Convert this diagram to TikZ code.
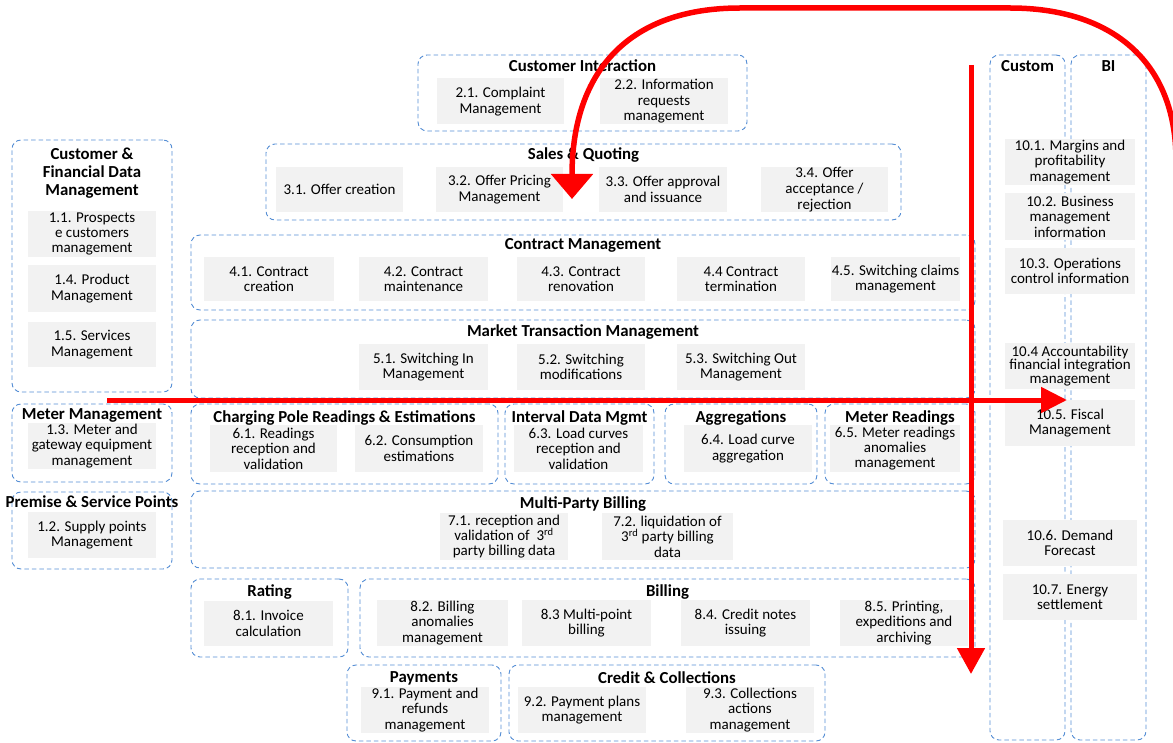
\documentclass[tikz,border=0pt]{standalone}
\usepackage{fontspec}
\setmainfont{Carlito}
\usetikzlibrary{arrows.meta}

\definecolor{grpblue}{RGB}{84,141,212}
\definecolor{itemgray}{RGB}{242,242,242}
\definecolor{flowred}{RGB}{255,0,0}

\tikzset{
  grpbox/.style={draw=grpblue, line width=0.9pt, dash pattern=on 4.5pt off 3pt,
    rounded corners=9pt, inner sep=0pt},
  grptitle/.style={font=\bfseries\fontsize{16.8}{18}\selectfont, align=center, inner sep=0pt},
  itembox/.style={fill=itemgray, align=center, inner sep=0pt, minimum width=128pt,
    minimum height=46pt, font=\fontsize{15}{15.4}\selectfont},
  redflow/.style={draw=flowred, line width=5pt},
}

\begin{document}
\begin{tikzpicture}[x=1pt,y=-1pt]
  \useasboundingbox (0,0) rectangle (1173,743);
  %
  % group boxes
  \node[grpbox, minimum width=329pt, minimum height=76pt] (ci) at (582.5,93) {};
  \node[grpbox, minimum width=635pt, minimum height=76pt] (sq) at (583.5,182) {};
  \node[grpbox, minimum width=784pt, minimum height=75pt] (cm) at (583,272.5) {};
  \node[grpbox, minimum width=784pt, minimum height=78pt] (mt) at (583,359) {};
  \node[grpbox, minimum width=307pt, minimum height=80pt] (cp) at (344.5,444) {};
  \node[grpbox, minimum width=149pt, minimum height=80pt] (id) at (579.5,444) {};
  \node[grpbox, minimum width=152pt, minimum height=80pt] (ag) at (741,444) {};
  \node[grpbox, minimum width=150pt, minimum height=80pt] (mr) at (900,444) {};
  \node[grpbox, minimum width=784pt, minimum height=77pt] (mp) at (583,529.5) {};
  \node[grpbox, minimum width=157pt, minimum height=78pt] (rt) at (269.5,618) {};
  \node[grpbox, minimum width=615pt, minimum height=78pt] (bl) at (667.5,618) {};
  \node[grpbox, minimum width=154pt, minimum height=76pt] (pm) at (424,703) {};
  \node[grpbox, minimum width=316pt, minimum height=76pt] (cc) at (667,703) {};
  \node[grpbox, minimum width=160pt, minimum height=252pt] (cf) at (92,266) {};
  \node[grpbox, minimum width=160pt, minimum height=78pt] (mm) at (92,443) {};
  \node[grpbox, minimum width=160pt, minimum height=77pt] (ps) at (92,530.5) {};
  \node[grpbox, minimum width=75pt, minimum height=685pt] (cu) at (1027.5,397.5) {};
  \node[grpbox, minimum width=75pt, minimum height=685pt] (bi) at (1108.5,397.5) {};
  %
  % group titles
  \node[grptitle] (ci-t) at (582.5,66) {Customer Interaction};
  \node[grptitle] (sq-t) at (583.5,155) {Sales \& Quoting};
  \node[grptitle] (cm-t) at (583,245) {Contract Management};
  \node[grptitle] (mt-t) at (583,332) {Market Transaction Management};
  \node[grptitle] (cp-t) at (344.5,418) {Charging Pole Readings \& Estimations};
  \node[grptitle] (id-t) at (579.5,418) {Interval Data Mgmt};
  \node[grptitle] (ag-t) at (741,418) {Aggregations};
  \node[grptitle] (mr-t) at (900,418) {Meter Readings};
  \node[grptitle] (mp-t) at (583,504) {Multi-Party Billing};
  \node[grptitle] (rt-t) at (269.5,592) {Rating};
  \node[grptitle] (bl-t) at (667.5,592) {Billing};
  \node[grptitle] (pm-t) at (424,678) {Payments};
  \node[grptitle] (cc-t) at (667,678) {Credit \& Collections};
  \node[grptitle] (cf-t) at (92,173) {Customer \&\\Financial Data\\Management};
  \node[grptitle] (mm-t) at (92,415) {Meter Management};
  \node[grptitle] (ps-t) at (92,502) {Premise \& Service Points};
  \node[grptitle] (cu-t) at (1027.5,66) {Custom};
  \node[grptitle] (bi-t) at (1108.5,66) {BI};
  %
  % items
  \node[itembox, minimum width=127pt] (i21) at (500.5,101.5) {2.1. Complaint\\Management};
  \node[itembox] (i22) at (664,101.5) {2.2. Information\\requests\\management};
  %
  \node[itembox, minimum width=127pt, minimum height=45pt] (i31) at (339.5,189.5) {3.1. Offer creation};
  \node[itembox, minimum width=127pt, minimum height=45pt] (i32) at (499.5,189.5) {3.2. Offer Pricing\\Management};
  \node[itembox, minimum height=45pt] (i33) at (663,189.5) {3.3. Offer approval\\and issuance};
  \node[itembox, minimum width=127pt, minimum height=45pt, font=\fontsize{15}{16}\selectfont] (i34) at (824.5,189.5) {3.4. Offer\\acceptance /\\rejection};
  %
  \node[itembox, minimum width=130pt, minimum height=44pt] (i41) at (269,279) {4.1. Contract\\creation};
  \node[itembox, minimum width=129pt, minimum height=44pt] (i42) at (423.5,279) {4.2. Contract\\maintenance};
  \node[itembox, minimum height=44pt] (i43) at (581,279) {4.3. Contract\\renovation};
  \node[itembox, minimum height=44pt] (i44) at (741,279) {4.4 Contract\\termination};
  \node[itembox, minimum width=129pt, minimum height=44pt] (i45) at (895.5,279) {4.5. Switching claims\\management};
  %
  \node[itembox, minimum width=129pt] (i51) at (423.5,367) {5.1. Switching In\\Management};
  \node[itembox] (i52) at (581,367) {5.2. Switching\\modifications};
  \node[itembox] (i53) at (741,367) {5.3. Switching Out\\Management};
  %
  \node[itembox, minimum width=127pt, minimum height=47pt] (i61) at (273.5,448.5) {6.1. Readings\\reception and\\validation};
  \node[itembox, minimum height=47pt] (i62) at (419,448.5) {6.2. Consumption\\estimations};
  \node[itembox, minimum width=129pt, minimum height=47pt] (i63) at (578.5,448.5) {6.3. Load curves\\reception and\\validation};
  \node[itembox, minimum height=47pt] (i64) at (748,448.5) {6.4. Load curve\\aggregation};
  \node[itembox, minimum width=130pt, minimum height=47pt] (i65) at (895,448.5) {6.5. Meter readings\\anomalies\\management};
  %
  \node[itembox, minimum height=47pt] (i71) at (504,536.5) {7.1. reception and\\validation of \ 3\textsuperscript{rd}\\party billing data};
  \node[itembox, minimum width=131pt, minimum height=47pt] (i72) at (667.5,536.5) {7.2. liquidation of\\3\textsuperscript{rd} party billing\\data};
  %
  \node[itembox, minimum width=129pt, minimum height=45pt] (i81) at (268.5,623.5) {8.1. Invoice\\calculation};
  \node[itembox, minimum width=131pt] (i82) at (442.5,623) {8.2. Billing\\anomalies\\management};
  \node[itembox, minimum width=129pt] (i83) at (586.5,623) {8.3 Multi-point\\billing};
  \node[itembox, minimum width=129pt] (i84) at (745.5,623) {8.4. Credit notes\\issuing};
  \node[itembox] (i85) at (904,623) {8.5. Printing,\\expeditions and\\archiving};
  %
  \node[itembox] (i91) at (425,710) {9.1. Payment and\\refunds\\management};
  \node[itembox] (i92) at (582,710) {9.2. Payment plans\\management};
  \node[itembox] (i93) at (750,710) {9.3. Collections\\actions\\management};
  %
  \node[itembox] (i11) at (92,234) {1.1. Prospects\\e customers\\management};
  \node[itembox, minimum height=47pt] (i14) at (92,288.5) {1.4. Product\\Management};
  \node[itembox, minimum height=45pt] (i15) at (92,344.5) {1.5. Services\\Management};
  \node[itembox] (i13) at (92,446) {1.3. Meter and\\gateway equipment\\management};
  \node[itembox] (i12) at (92,535) {1.2. Supply points\\Management};
  %
  \node[itembox, minimum width=130pt] (i101) at (1070,162) {10.1. Margins and\\profitability\\management};
  \node[itembox, minimum width=130pt, minimum height=47pt] (i102) at (1070,216.5) {10.2. Business\\management\\information};
  \node[itembox, minimum width=130pt] (i103) at (1070,271) {10.3. Operations\\control information};
  \node[itembox, minimum width=130pt, font=\fontsize{15}{13.6}\selectfont] (i104) at (1070,366) {10.4 Accountability\\financial integration\\management};
  \node[itembox, minimum width=130pt] (i105) at (1070,423) {10.5. Fiscal\\Management};
  \node[itembox, minimum width=134pt] (i106) at (1070,543) {10.6. Demand\\Forecast};
  \node[itembox, minimum width=134pt] (i107) at (1070,597) {10.7. Energy\\settlement};
  %
  % red flows
  \coordinate (h0) at (107,400);
  \coordinate (h1) at (1067,400);
  \draw[redflow, -{Triangle[width=25pt,length=26pt]}] (h0) -- (h1);
  %
  \coordinate (v0) at (971,65);
  \coordinate (v1) at (971,674);
  \draw[redflow, -{Triangle[width=27pt,length=26pt]}] (v0) -- (v1);
  %
  \coordinate (c0) at (1176,615);
  \coordinate (c1) at (572,199);
  \draw[redflow, line width=5.5pt, -{Triangle[width=41pt,length=25pt]}]
    (c0) -- (1176,160) .. controls (1176,60) and (1110,8) .. (1010,8)
    -- (740,8) .. controls (630,8) and (572,70) .. (c1);
\end{tikzpicture}
\end{document}
